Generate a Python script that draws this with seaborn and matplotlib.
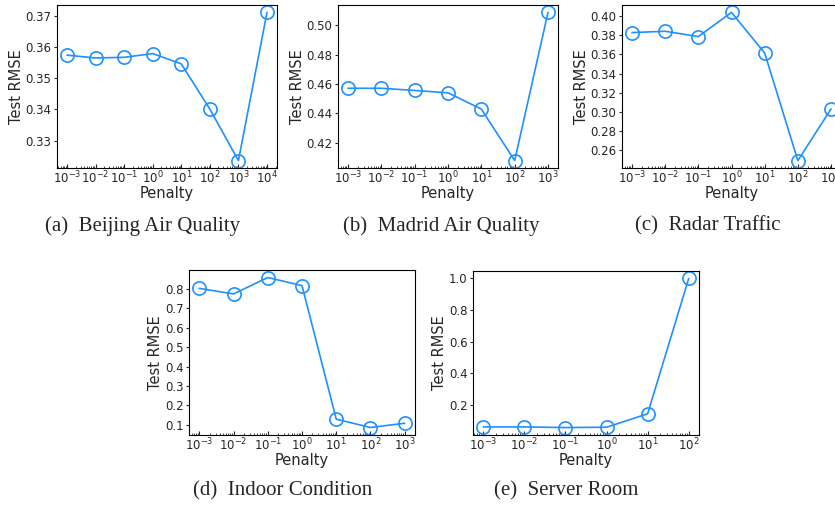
import numpy as np
import pandas as pd
import matplotlib
matplotlib.use("Agg")
import matplotlib.pyplot as plt
import seaborn as sns
from matplotlib.ticker import MultipleLocator, LogLocator, LogFormatterSciNotation

# ---------------- Data ----------------

penalty_a = [1e-3, 1e-2, 1e-1, 1e0, 1e1, 1e2, 1e3, 1e4]
rmse_a = [0.3574, 0.3565, 0.3567, 0.3579, 0.3546, 0.3401, 0.3236, 0.3711]

penalty_b = [1e-3, 1e-2, 1e-1, 1e0, 1e1, 1e2, 1e3]
rmse_b = [0.4571, 0.4571, 0.4556, 0.4540, 0.4429, 0.4078, 0.5088]

penalty_c = [1e-3, 1e-2, 1e-1, 1e0, 1e1, 1e2, 1e3]
rmse_c = [0.3830, 0.3844, 0.3788, 0.4042, 0.3615, 0.2485, 0.3028]

penalty_d = [1e-3, 1e-2, 1e-1, 1e0, 1e1, 1e2, 1e3]
rmse_d = [0.804, 0.775, 0.860, 0.818, 0.128, 0.085, 0.107]

penalty_e = [1e-3, 1e-2, 1e-1, 1e0, 1e1, 1e2]
rmse_e = [0.060, 0.060, 0.056, 0.058, 0.143, 1.000]

captions = ["(a)  Beijing Air Quality", "(b)  Madrid Air Quality",
            "(c)  Radar Traffic", "(d)  Indoor Condition", "(e)  Server Room"]

# ---------------- Style ----------------

sns.set_style("ticks")
plt.rcParams["font.family"] = ["DejaVu Sans"]

W, H = 835, 507
fig = plt.figure(figsize=(W / 100, H / 100), dpi=100)

color = "#1E90FF"

# axes boxes in pixels: left, top, right, bottom
boxes = [(57, 5, 277, 168), (338, 5, 558, 168), (622, 5, 841, 168),
         (189, 270, 415, 435), (473, 271, 699, 435)]
ysteps = [0.01, 0.02, 0.02, 0.1, 0.2]
caption_pos = [(143, 226), (441, 226), (708, 226), (283, 491), (566, 491)]

series = [(penalty_a, rmse_a), (penalty_b, rmse_b), (penalty_c, rmse_c),
          (penalty_d, rmse_d), (penalty_e, rmse_e)]

for i, (xs, ys) in enumerate(series):
    l, t, r, b = boxes[i]
    ax = fig.add_axes([l / W, 1 - b / H, (r - l) / W, (b - t) / H])
    df = pd.DataFrame({"Penalty": xs, "Test RMSE": ys})
    sns.lineplot(data=df, x="Penalty", y="Test RMSE", ax=ax, color=color,
                 linewidth=1.2, marker="o", markersize=9.5,
                 markerfacecolor="none", markeredgecolor=color,
                 markeredgewidth=1.2)
    ax.set_xscale("log")
    ax.xaxis.set_major_locator(LogLocator(base=10, numticks=20))
    ax.xaxis.set_major_formatter(LogFormatterSciNotation())
    ax.xaxis.set_minor_locator(LogLocator(base=10, subs=np.arange(2, 10), numticks=20))
    ax.yaxis.set_major_locator(MultipleLocator(ysteps[i]))
    ax.tick_params(axis="x", direction="in", labelsize=8.5, length=3, width=0.8, pad=1.5)
    ax.tick_params(axis="x", which="minor", direction="in", length=1.5, width=0.6)
    ax.tick_params(axis="y", direction="out", labelsize=8.5, length=2, width=0.8, pad=2)
    ax.set_xlabel("Penalty", fontsize=10.5, labelpad=-0.5)
    ax.set_ylabel("Test RMSE", fontsize=10.5, labelpad=1)
    for s in ax.spines.values():
        s.set_linewidth(0.8)
        s.set_color("black")
    cx, cy = caption_pos[i]
    fig.text(cx / W, 1 - cy / H, captions[i], ha="center", va="center",
             fontsize=15, family=["Liberation Serif", "DejaVu Serif"])

fig.savefig("out.png", dpi=100)
